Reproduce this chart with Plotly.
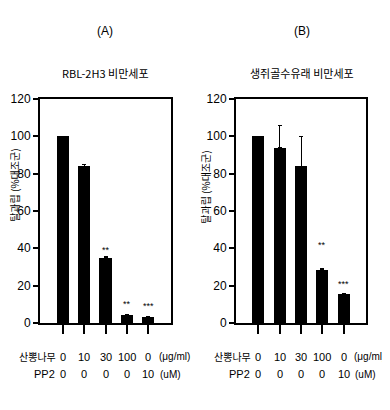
import plotly.graph_objects as go

# ---- data ----
x_pos = [0, 1, 2, 3, 4]
row1_labels = ["0", "10", "30", "100", "0"]
row2_labels = ["0", "0", "0", "0", "10"]
vals_A = [100, 84, 35, 4, 3]
err_A = [0, 1, 0.5, 0.5, 0.5]
stars_A = ["", "", "**", "**", "***"]
star_y_A = [0, 0, 39, 10, 9]
vals_B = [100, 94, 84, 28.5, 15.5]
err_B = [0, 12, 16, 0.8, 0.5]
stars_B = ["", "", "", "**", "***"]
star_y_B = [0, 0, 0, 42, 21]
y_ticks = [0, 20, 40, 60, 80, 100, 120]

FONT = "Liberation Sans Narrow, Liberation Sans, Noto Sans CJK KR"
KFONT = "Noto Sans CJK KR"

# page body has an 8px margin: build the figure to fit the remaining viewport
OFF = 8
W, H = 390 - OFF, 410 - OFF
def px(x):
    return (x - OFF) / W
def py(y):
    return 1 - (y - OFF) / H

fig = go.Figure()
for vals, errs, xa, ya in [(vals_A, err_A, "x", "y"), (vals_B, err_B, "x2", "y2")]:
    fig.add_trace(go.Bar(
        x=x_pos, y=vals, width=0.56, marker=dict(color="black", line=dict(width=0)),
        error_y=dict(type="data", array=errs, arrayminus=[0]*5, symmetric=False,
                     color="black", thickness=1, width=2),
        xaxis=xa, yaxis=ya, showlegend=False))

xdomA = [px(40), px(171)]
xdomB = [px(236), px(366)]
ydom = [py(327), py(95)]

axis_common_x = dict(range=[-1.05, 5.05], tickvals=x_pos, showticklabels=False,
                     ticks="outside", ticklen=9, tickwidth=1.5, tickcolor="black",
                     showline=True, linecolor="black", linewidth=2, mirror=True,
                     showgrid=False, zeroline=False, fixedrange=True)
axis_common_y = dict(range=[0, 120], tickvals=y_ticks, ticks="outside", ticklen=5,
                     tickwidth=1.5, tickcolor="black", showline=True, linecolor="black",
                     linewidth=2, mirror=True, showgrid=False, zeroline=False,
                     tickfont=dict(family=FONT, size=12, color="black"))

fig.update_layout(
    width=W, height=H, margin=dict(l=0, r=0, t=0, b=0),
    paper_bgcolor="white", plot_bgcolor="white", bargap=0,
    xaxis=dict(domain=xdomA, anchor="y", **axis_common_x),
    yaxis=dict(domain=ydom, anchor="x", **axis_common_y),
    xaxis2=dict(domain=xdomB, anchor="y2", **axis_common_x),
    yaxis2=dict(domain=ydom, anchor="x2", **axis_common_y),
)

ann = []
def txt(x, y, t, xref="paper", yref="paper", size=11, family=FONT,
        xanchor="center", yanchor="middle", **kw):
    ann.append(dict(x=x, y=y, text=t, xref=xref, yref=yref, showarrow=False,
                    xanchor=xanchor, yanchor=yanchor,
                    font=dict(family=family, size=size, color="black"), **kw))

# panel titles
txt(px(105), py(25), "(A)", size=12)
txt(px(105), py(68), "RBL-2H3 비만세포", size=11, family=KFONT)
txt(px(302), py(25), "(B)", size=12)
txt(px(302), py(68), "생쥐골수유래 비만세포", size=11, family=KFONT)

# y titles
ytitle = "탈과립 (%대조군)"
txt(px(15), py(185), ytitle, size=10, family=KFONT, textangle=-90)
txt(px(206), py(187), ytitle, size=10, family=KFONT, textangle=-90)

# x labels
for xa, left in [("x", 0), ("x2", 195)]:
    for i, (a, b) in enumerate(zip(row1_labels, row2_labels)):
        txt(x_pos[i], py(362), a, xref=xa)
        txt(x_pos[i], py(380), b, xref=xa)
    txt(px(left + 58), py(362), "산뽕나무", size=10, family=KFONT, xanchor="right")
    txt(px(left + 57), py(380), "PP2", xanchor="right")
    txt(px(left + 157), py(362), "(μg/ml)", size=10, xanchor="left")
    txt(px(left + 158), py(380), "(uM)", size=10, xanchor="left")

# significance stars
for xa, ya, st, sy in [("x", "y", stars_A, star_y_A), ("x2", "y2", stars_B, star_y_B)]:
    for i, (s, yv) in enumerate(zip(st, sy)):
        if s:
            txt(x_pos[i], yv, s, xref=xa, yref=ya, size=9)

fig.update_layout(annotations=ann)
fig.write_html("out.html")
